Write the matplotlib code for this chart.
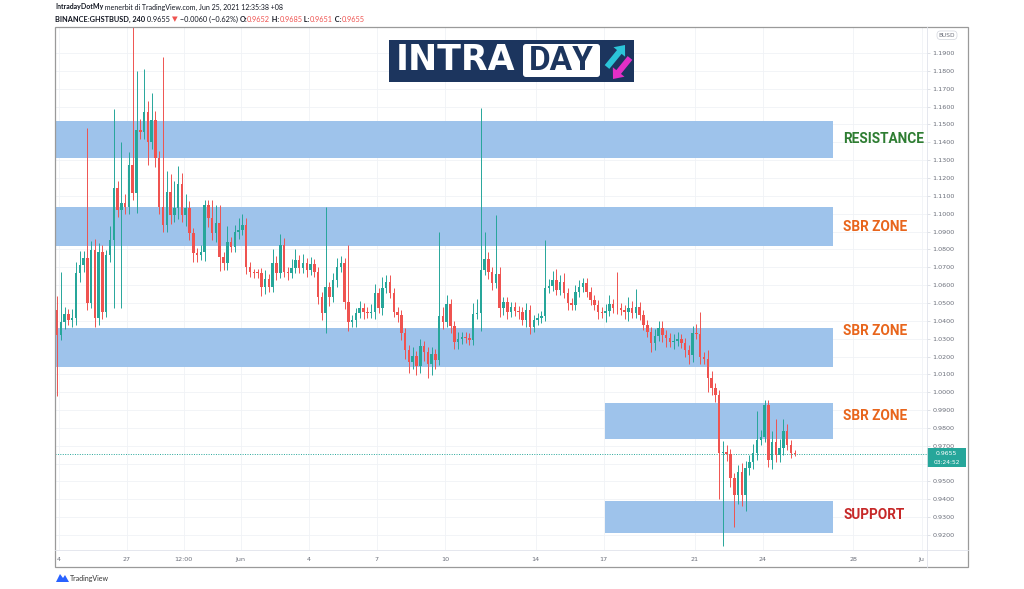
import numpy as np
import pandas as pd
import matplotlib
matplotlib.use("Agg")
import matplotlib.pyplot as plt
import matplotlib.dates as mdates
import matplotlib.transforms as mtransforms
from matplotlib.patches import Rectangle, FancyBboxPatch, FancyArrow, Polygon

# GHSTBUSD 4h candles
first_open = 1.0460
close = [
    1.0320, 1.0393, 1.0438, 1.0404, 1.0415, 1.0668, 1.0712, 1.0752, 1.0499, 1.0796,
    1.0415, 1.0785, 1.0449, 1.0768, 1.0852, 1.1144, 1.1020, 1.1060, 1.1037, 1.1273,
    1.1116, 1.1469, 1.1457, 1.1569, 1.1401, 1.1525, 1.1312, 1.1037, 1.0936, 1.1121,
    1.0992, 1.1032, 1.1166, 1.0992, 1.1032, 1.0892, 1.0780, 1.0768, 1.0785, 1.1048,
    1.0976, 1.0892, 1.0948, 1.0757, 1.0724, 1.0841, 1.0813, 1.0897, 1.0908, 1.0936,
    1.0701, 1.0673, 1.0670, 1.0668, 1.0589, 1.0634, 1.0589, 1.0724, 1.0668, 1.0824,
    1.0673, 1.0668, 1.0696, 1.0740, 1.0696, 1.0724, 1.0684, 1.0718, 1.0673, 1.0533,
    1.0443, 1.0589, 1.0533, 1.0628, 1.0701, 1.0724, 1.0505, 1.0393, 1.0404, 1.0443,
    1.0471, 1.0449, 1.0446, 1.0452, 1.0555, 1.0471, 1.0583, 1.0617, 1.0555, 1.0449,
    1.0432, 1.0331, 1.0236, 1.0169, 1.0203, 1.0147, 1.0259, 1.0225, 1.0158, 1.0214,
    1.0180, 1.0427, 1.0393, 1.0494, 1.0371, 1.0281, 1.0298, 1.0309, 1.0303, 1.0292,
    1.0438, 1.0443, 1.0684, 1.0746, 1.0673, 1.0611, 1.0662, 1.0471, 1.0505, 1.0449,
    1.0477, 1.0455, 1.0449, 1.0404, 1.0460, 1.0365, 1.0404, 1.0415, 1.0427, 1.0583,
    1.0595, 1.0628, 1.0572, 1.0617, 1.0555, 1.0499, 1.0488, 1.0561, 1.0589, 1.0611,
    1.0561, 1.0516, 1.0488, 1.0449, 1.0443, 1.0455, 1.0494, 1.0471, 1.0469, 1.0460,
    1.0449, 1.0471, 1.0443, 1.0477, 1.0432, 1.0376, 1.0337, 1.0275, 1.0315, 1.0359,
    1.0320, 1.0303, 1.0281, 1.0287, 1.0298, 1.0275, 1.0236, 1.0208, 1.0331, 1.0328,
    1.0197, 1.0186, 1.0079, 1.0023, 0.9984, 0.9659, 0.9665, 0.9654, 0.9519, 0.9424,
    0.9553, 0.9424, 0.9575, 0.9609, 0.9659, 0.9732, 0.9749, 0.9928, 0.9620, 0.9721,
    0.9648, 0.9687, 0.9782, 0.9704, 0.9659, 0.9655,
]
# wick length above / below the body, in 0.001
upper_wick = [
    8, 28, 4, 3, 5, 6, 8, 4, 73, 5,
    6, 5, 4, 3, 8, 44, 4, 34, 5, 7,
    88, 33, 6, 24, 6, 15, 5, 4, 84, 12,
    10, 15, 10, 6, 8, 4, 3, 3, 4, 3,
    3, 10, 10, 10, 3, 9, 3, 4, 7, 6,
    4, 3, 2, 2, 3, 5, 3, 8, 4, 6,
    4, 3, 5, 6, 3, 5, 3, 4, 3, 3,
    3, 45, 3, 4, 5, 4, 3, 32, 3, 3,
    4, 3, 3, 4, 5, 3, 6, 4, 4, 3,
    3, 3, 3, 3, 5, 3, 4, 3, 3, 4,
    3, 47, 5, 5, 3, 3, 4, 3, 3, 3,
    6, 8, 91, 15, 4, 3, 33, 4, 3, 3,
    3, 3, 3, 3, 4, 3, 3, 3, 3, 27,
    4, 5, 6, 4, 5, 3, 3, 4, 4, 3,
    3, 3, 3, 3, 3, 4, 5, 3, 20, 3,
    3, 6, 4, 10, 3, 3, 3, 3, 4, 4,
    4, 3, 3, 4, 4, 3, 3, 3, 4, 5,
    12, 3, 5, 4, 3, 3, 6, 4, 3, 3,
    4, 5, 4, 4, 5, 16, 4, 3, 3, 6,
    13, 5, 7, 4, 3, 2,
]
lower_wick = [
    34, 3, 4, 3, 4, 4, 5, 4, 4, 3,
    5, 4, 4, 3, 4, 38, 4, 55, 4, 4,
    4, 11, 4, 4, 13, 4, 5, 4, 4, 4,
    5, 4, 6, 4, 6, 4, 5, 4, 3, 5,
    5, 4, 5, 8, 4, 4, 3, 3, 4, 3,
    4, 3, 3, 3, 5, 4, 3, 3, 4, 3,
    3, 4, 3, 3, 3, 3, 4, 3, 3, 4,
    4, 11, 5, 3, 4, 3, 4, 5, 3, 4,
    3, 4, 3, 3, 4, 3, 4, 3, 3, 3,
    4, 4, 5, 6, 4, 5, 4, 5, 8, 6,
    5, 3, 4, 3, 4, 4, 4, 3, 3, 3,
    3, 3, 10, 3, 4, 4, 3, 5, 4, 4,
    3, 3, 4, 3, 4, 4, 3, 3, 3, 3,
    3, 3, 3, 3, 3, 4, 3, 3, 3, 3,
    3, 3, 3, 4, 3, 5, 3, 3, 3, 3,
    4, 5, 3, 3, 3, 3, 3, 5, 4, 3,
    4, 5, 3, 4, 3, 3, 4, 5, 4, 3,
    4, 3, 8, 4, 4, 26, 52, 4, 5, 18,
    5, 6, 9, 4, 4, 4, 3, 3, 4, 5,
    4, 4, 4, 3, 3, 1,
]
start_time = "2021-05-23 22:00"

zone_names = ["RESISTANCE", "SBR ZONE", "SBR ZONE", "SBR ZONE", "SUPPORT"]
zone_top = [1.1519, 1.1037, 1.0359, 0.9939, 0.9390]
zone_bottom = [1.1312, 1.0819, 1.0141, 0.9738, 0.9211]
zone_from = ["2021-05-20", "2021-05-20", "2021-05-20", "2021-06-17 01:30", "2021-06-17 01:30"]
zone_to = "2021-06-27 02:30"
label_y = [1.1418, 1.0925, 1.0343, 0.9866, 0.9312]
label_colors = ["#2e7d32", "#e8651c", "#e8651c", "#e8651c", "#c62828"]

last_price = 0.9655
countdown = "03:24:52"

date_ticks = ["2021-05-24", "2021-05-27", "2021-05-29 12:00", "2021-06-01", "2021-06-04",
              "2021-06-07", "2021-06-10", "2021-06-14", "2021-06-17", "2021-06-21",
              "2021-06-24", "2021-06-28", "2021-07-01"]
date_labels = ["4", "27", "12:00", "Jun", "4", "7", "10", "14", "17", "21", "24", "28", "Ju"]
price_ticks = np.round(np.arange(0.92, 1.195, 0.01), 2)

UP = "#26a69a"
DOWN = "#ef5350"
GRAY = "#6b6f7a"


def dnum(s):
    return mdates.date2num(pd.Timestamp(s))


close = np.array(close)
opens = np.r_[first_open, close[:-1]]
high = np.maximum(opens, close) + np.array(upper_wick) / 1000
low = np.minimum(opens, close) - np.array(lower_wick) / 1000
x = mdates.date2num(pd.date_range(start_time, periods=len(close), freq="4h"))

W, H = 1024, 589
L, R, T, B = 55, 927, 27, 550
fig = plt.figure(figsize=(W / 100, H / 100), dpi=100)
fig.patch.set_facecolor("white")
ax = fig.add_axes([L / W, 1 - B / H, (R - L) / W, (B - T) / H])
ax.set_xlim(dnum("2021-05-23 19:50"), dnum("2021-07-01 05:45"))
ax.set_ylim(0.9116, 1.2046)
for s in ax.spines.values():
    s.set_visible(False)

ax.set_yticks(price_ticks)
# the 0.9600 label sits under the last-price tag, as on the chart
ax.set_yticklabels(["" if abs(v - 0.96) < 1e-6 else f"{v:.4f}" for v in price_ticks])
ax.yaxis.tick_right()
ax.tick_params(axis="y", length=2, width=0.5, color="#d1d4dc", pad=2,
               labelsize=4.6, labelcolor=GRAY)
ax.set_xticks([dnum(d) for d in date_ticks])
ax.set_xticklabels(date_labels)
ax.tick_params(axis="x", length=0, pad=5, labelsize=4.6, labelcolor=GRAY)
ax.grid(True, color="#f0f2f6", lw=0.6)
ax.set_axisbelow(True)

# zones
x_end = dnum(zone_to)
for i in range(len(zone_names)):
    ax.fill_between([dnum(zone_from[i]), x_end], zone_bottom[i], zone_top[i],
                    color="#9ec3eb", lw=0, zorder=1)
    ax.text(dnum("2021-06-27 13:00"), label_y[i], zone_names[i],
            color=label_colors[i], fontsize=9.8, fontweight="bold",
            family=["Roboto", "DejaVu Sans"], ha="left", va="center")

# candles
col = np.where(close >= opens, UP, DOWN)
ax.vlines(x, low, high, colors=col, lw=0.7, zorder=3)
ax.bar(x, np.maximum(np.abs(close - opens), 0.0005), bottom=np.minimum(opens, close),
       width=0.11, color=col, lw=0, zorder=4)

# last price line and label
ax.axhline(last_price, color=UP, lw=0.7, ls=(0, (1, 1.5)), zorder=2)
tr = mtransforms.blended_transform_factory(ax.transAxes, ax.transData)
bw = 39 / (R - L)
ax.add_patch(Rectangle((1.0, last_price - 0.0073), bw, 0.0107, transform=tr,
                       fc=UP, ec="none", clip_on=False, zorder=6))
ax.text(1.0 + bw / 2, last_price, f"{last_price:.4f}", transform=tr, color="white",
        fontsize=4.4, ha="center", va="center", zorder=7, clip_on=False)
ax.text(1.0 + bw / 2, last_price - 0.0048, countdown, transform=tr, color="white",
        fontsize=4.2, ha="center", va="center", zorder=7, clip_on=False)
ax.text(1.0 + 20 / (R - L), 1.2000, "BUSD", transform=tr, color=GRAY, fontsize=4.2,
        ha="center", va="center", clip_on=False,
        bbox=dict(boxstyle="round,pad=0.3,rounding_size=0.6", fc="white", ec="#d1d4dc", lw=0.5))

# overlay in pixel coordinates
ov = fig.add_axes([0, 0, 1, 1], zorder=5)
ov.set_xlim(0, W)
ov.set_ylim(H, 0)
ov.axis("off")
ov.patch.set_alpha(0)

ov.add_patch(Rectangle((L, T), 968 - L, 567 - T, fill=False, ec="#9a9a9a", lw=0.9))
ov.plot([R, R], [T, 567], color="#e0e3eb", lw=0.6)
ov.plot([L, 968], [B, B], color="#e0e3eb", lw=0.6)

# header
renderer = fig.canvas.get_renderer()


def write_run(xp, yp, pieces, size=5.0):
    for txt, color, weight in pieces:
        t = ov.text(xp, yp, txt, color=color, fontsize=size, fontweight=weight,
                    family=["Lato", "DejaVu Sans"], ha="left", va="center")
        xp += t.get_window_extent(renderer=renderer).width


DARK = "#131722"
write_run(55, 7, [("IntradayDotMy", DARK, "bold"),
                  (" menerbit di TradingView.com, Jun 25, 2021 12:35:38 +08", DARK, "normal")])
write_run(55, 19, [("BINANCE:GHSTBUSD, 240", DARK, "bold"), (" 0.9655 ", DARK, "normal"),
                   ("▼", DOWN, "normal"), (" \u22120.0060 (\u22120.62%) ", DARK, "normal"),
                   ("O:", DARK, "bold"), ("0.9652", DOWN, "normal"),
                   (" H:", DARK, "bold"), ("0.9685", DOWN, "normal"),
                   (" L:", DARK, "bold"), ("0.9651", DOWN, "normal"),
                   (" C:", DARK, "bold"), ("0.9655", DOWN, "normal")], size=5.3)

# logo
NAVY = "#1c355e"
ov.add_patch(Rectangle((389, 40), 245, 42, fc=NAVY, ec="none"))
ov.add_patch(FancyBboxPatch((523, 44), 77, 33, boxstyle="round,pad=0,rounding_size=3",
                            fc="white", ec="none"))
ov.text(396, 60, "INTRA", color="white", fontsize=25, fontweight="bold",
        family="DejaVu Sans", ha="left", va="center")
ov.text(561.5, 60.5, "DAY", color=NAVY, fontsize=24, fontweight="bold",
        family="Roboto", ha="center", va="center")
ov.add_patch(FancyArrow(630, 58, -17, 21, width=6, head_width=15, head_length=9,
                        length_includes_head=True, fc="#e32fc6", ec="none"))
ov.add_patch(FancyArrow(607, 67, 18, -22, width=6, head_width=15, head_length=9,
                        length_includes_head=True, fc="#2bc4d8", ec="none"))

# footer
ov.add_patch(Polygon([[56, 582], [60, 574], [63, 578], [65, 575], [69, 582]],
                     closed=True, fc="#2962ff", ec="none"))
ov.text(70, 578, "TradingView", color="#333333", fontsize=5, family=["Lato", "DejaVu Sans"],
        ha="left", va="center")

fig.savefig("out.png", dpi=100)
